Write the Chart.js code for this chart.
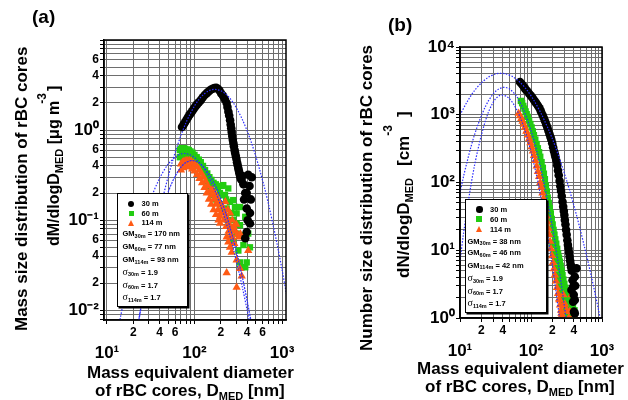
<!DOCTYPE html>
<html><head><meta charset="utf-8">
<script src="https://cdn.jsdelivr.net/npm/chart.js@4.4.1/dist/chart.umd.min.js"></script>
<style>
body{margin:0;background:#fff;width:628px;height:400px;overflow:hidden;position:relative;font-family:"Liberation Sans",Arial,Helvetica,sans-serif;font-weight:bold;color:#000}
canvas{position:absolute;top:0}
.t{position:absolute;white-space:nowrap;line-height:20px;font-size:17px;z-index:3}
.rot{transform:rotate(-90deg);transform-origin:0 0}
.sub{font-size:11px;position:relative;top:4px}
.sup{font-size:12px;position:relative}
.box{position:absolute;box-sizing:border-box;border:1.5px solid #000;box-shadow:1.5px 1.5px 0 #000;background:#fff;z-index:4}
.li{position:absolute;white-space:nowrap;font-size:7.5px;line-height:9px;z-index:5}
.li .s{font-size:5.5px;position:relative;top:1.5px}
.sig{font-family:"Liberation Serif","Times New Roman",serif;font-weight:normal;font-size:10px}
.mk{position:absolute;z-index:5}
</style></head>
<body>
<canvas id="ca" width="314" height="400" style="left:0"></canvas>
<canvas id="cb" width="314" height="400" style="left:314px"></canvas>

<div class="t" style="left:32px;top:6px;font-size:19px;line-height:22px">(a)</div>
<div class="t" style="left:388px;top:14px;font-size:19px;line-height:22px">(b)</div>

<div class="t rot" style="left:12px;top:331px">Mass size distribution of rBC cores</div>
<div class="t rot" style="left:44px;top:246px;font-size:16px">dM/dlogD<span class="sub">MED</span> [μg m<span class="sup" style="top:-13px;margin-left:-3px">-3</span><span style="margin-left:2px">]</span></div>
<div class="t" style="left:87px;top:363px">Mass equivalent diameter</div>
<div class="t" style="left:95px;top:381px">of rBC cores, D<span class="sub">MED</span> [nm]</div>

<div class="t rot" style="left:357px;top:351px">Number size distribution of rBC cores</div>
<div class="t rot" style="left:394px;top:278px">dN/dlogD<span class="sub">MED</span><span style="margin-left:12px">[cm</span><span class="sup" style="top:-17px">-3</span><span style="margin-left:8px">]</span></div>
<div class="t" style="left:417px;top:359px">Mass equivalent diameter</div>
<div class="t" style="left:425px;top:377px">of rBC cores, D<span class="sub">MED</span> [nm]</div>

<div class="box" style="left:117px;top:193px;width:71px;height:114px"></div>
<div class="mk" style="left:128px;top:200.5px;width:6px;height:6px;border-radius:50%;background:#000"></div>
<div class="mk" style="left:128.5px;top:211px;width:5px;height:5px;background:#22cc11"></div>
<div class="mk" style="left:127.5px;top:219.5px;width:0;height:0;border-left:3.5px solid transparent;border-right:3.5px solid transparent;border-bottom:6px solid #ff5a14"></div>
<div class="li" style="left:141.5px;top:199px">30 m</div>
<div class="li" style="left:141.5px;top:209px">60 m</div>
<div class="li" style="left:141.5px;top:218px">114 m</div>
<div class="li" style="left:122.5px;top:229px">GM<span class="s">30m</span> = 170 nm</div>
<div class="li" style="left:122.5px;top:242px">GM<span class="s">60m</span> = 77 nm</div>
<div class="li" style="left:122.5px;top:255px">GM<span class="s">114m</span> = 93 nm</div>
<div class="li" style="left:122.5px;top:266.5px"><span class="sig">σ</span><span class="s">30m</span> = 1.9</div>
<div class="li" style="left:122.5px;top:279.5px"><span class="sig">σ</span><span class="s">60m</span> = 1.7</div>
<div class="li" style="left:122.5px;top:292px"><span class="sig">σ</span><span class="s">114m</span> = 1.7</div>

<div class="box" style="left:465px;top:199px;width:82px;height:114px"></div>
<div class="mk" style="left:476px;top:206px;width:6.5px;height:6.5px;border-radius:50%;background:#000"></div>
<div class="mk" style="left:476.3px;top:216.3px;width:6px;height:6px;background:#22cc11"></div>
<div class="mk" style="left:475.5px;top:226px;width:0;height:0;border-left:3.8px solid transparent;border-right:3.8px solid transparent;border-bottom:6.5px solid #ff5a14"></div>
<div class="li" style="left:490px;top:205px">30 m</div>
<div class="li" style="left:490px;top:215px">60 m</div>
<div class="li" style="left:490px;top:225px">114 m</div>
<div class="li" style="left:467.5px;top:236.5px">GM<span class="s">30m</span> = 38 nm</div>
<div class="li" style="left:467.5px;top:248px">GM<span class="s">60m</span> = 46 nm</div>
<div class="li" style="left:467.5px;top:260.5px">GM<span class="s">114m</span> = 42 nm</div>
<div class="li" style="left:467.5px;top:273px"><span class="sig">σ</span><span class="s">30m</span> = 1.9</div>
<div class="li" style="left:467.5px;top:285.5px"><span class="sig">σ</span><span class="s">60m</span> = 1.7</div>
<div class="li" style="left:467.5px;top:298px"><span class="sig">σ</span><span class="s">114m</span> = 1.7</div>

<script>
// ---------- DATA ----------
// Panel (a): mass size distribution, [D_MED (nm), dM/dlogD (ug m-3)]
const mass30m = [[72,1.08],[75,1.15],[78,1.22],[81,1.3],[84,1.38],[87,1.46],[90,1.53],[94,1.62],[98,1.72],[102,1.82],[107,1.93],[112,2.03],[118,2.15],[124,2.3],[131,2.45],[138,2.57],[145,2.68],[153,2.8],[161,2.88],[169,2.93],[177,2.95],[185,2.88],[193,2.75],[202,2.55],[212,2.4],[222,2.2],[233,2.0],[238,1.8],[244,1.6],[249,1.45],[255,1.29],[259,1.15],[263,1.05],[266,0.95],[270,0.86],[274,0.78],[278,0.72],[282,0.66],[287,0.6],[291,0.56],[296,0.52],[301,0.48],[306,0.44],[311,0.41],[316,0.38],[321,0.355],[326,0.33],[332,0.31],[338,0.29],[345,0.28],[352,0.31],[362,0.25],[368,0.17],[380,0.2],[395,0.2],[411,0.32],[425,0.24],[440,0.17],[451,0.3],[395,0.135],[430,0.12],[405,0.1],[430,0.092],[395,0.074],[380,0.063]];
const mass60m = [[68,0.6],[70,0.62],[72,0.63],[75,0.63],[78,0.62],[82,0.61],[86,0.6],[90,0.58],[95,0.56],[100,0.53],[106,0.5],[112,0.47],[118,0.44],[125,0.4],[132,0.36],[140,0.33],[148,0.3],[156,0.28],[165,0.26],[175,0.25],[185,0.23],[68,0.5],[72,0.53],[76,0.54],[80,0.54],[85,0.53],[90,0.52],[96,0.49],[102,0.46],[108,0.43],[115,0.39],[122,0.35],[130,0.31],[138,0.27],[146,0.24],[155,0.21],[164,0.19],[174,0.17],[184,0.16],[195,0.2],[205,0.24],[213,0.245],[223,0.19],[233,0.135],[243,0.225],[254,0.16],[266,0.08],[277,0.1],[277,0.167],[290,0.14],[303,0.119],[303,0.071],[317,0.046],[331,0.088],[331,0.14],[331,0.068],[331,0.034],[346,0.03],[362,0.053],[380,0.109],[380,0.03],[395,0.034],[411,0.071],[430,0.05],[277,0.057],[303,0.092],[200,0.15],[215,0.13],[240,0.1],[260,0.12],[210,0.19],[230,0.17]];
const mass114m = [[70,0.42],[73,0.44],[76,0.45],[80,0.46],[84,0.46],[88,0.46],[92,0.45],[97,0.43],[102,0.41],[108,0.39],[114,0.36],[120,0.33],[127,0.3],[134,0.27],[142,0.24],[150,0.21],[158,0.19],[166,0.17],[175,0.15],[185,0.13],[196,0.11],[70,0.36],[74,0.38],[78,0.39],[83,0.4],[88,0.39],[94,0.37],[100,0.35],[107,0.32],[114,0.29],[122,0.26],[130,0.23],[138,0.2],[146,0.17],[155,0.15],[165,0.13],[176,0.115],[188,0.1],[196,0.092],[160,0.22],[170,0.2],[180,0.18],[190,0.16],[200,0.15],[210,0.14],[220,0.12],[230,0.11],[240,0.1],[250,0.09],[260,0.08],[270,0.1],[280,0.085],[290,0.075],[300,0.09],[310,0.07],[200,0.12],[215,0.1],[230,0.085],[245,0.075],[255,0.065],[225,0.16],[240,0.13],[255,0.12],[270,0.065],[320,0.065],[335,0.07],[243,0.057],[266,0.044],[303,0.036],[331,0.029],[346,0.024],[303,0.018],[411,0.046],[233,0.026],[254,0.05],[233,0.065],[285,0.055]];
// Fitted lognormal curves of panel (a)
const fitMass30m = [[22.4,0.0063],[25.1,0.0124],[28.2,0.0233],[31.6,0.0422],[35.5,0.0734],[39.8,0.123],[44.7,0.198],[50.1,0.306],[56.2,0.456],[63.1,0.652],[70.8,0.898],[79.4,1.19],[89.1,1.51],[100,1.85],[112,2.18],[126,2.47],[141,2.68],[158,2.81],[178,2.82],[200,2.73],[224,2.54],[251,2.28],[282,1.96],[316,1.62],[355,1.29],[398,0.986],[447,0.726],[501,0.513],[562,0.349],[631,0.229],[708,0.144],[794,0.0869],[891,0.0506],[1000,0.0283],[1122,0.0152]];
const fitMass60m = [[14.1,0.0079],[15.8,0.0138],[20,0.0373],[25.1,0.0865],[31.6,0.171],[39.8,0.29],[50.1,0.419],[63.1,0.519],[70.8,0.545],[79.4,0.549],[89.1,0.532],[100,0.496],[112,0.445],[126,0.384],[141,0.318],[158,0.254],[178,0.195],[200,0.144],[224,0.102],[251,0.0695],[282,0.0456],[316,0.0287],[355,0.0174],[398,0.0102],[447,0.0057]];
const fitMass114m = [[22.4,0.0066],[25.1,0.0127],[28.2,0.0232],[31.6,0.0401],[35.5,0.0655],[39.8,0.101],[44.7,0.148],[50.1,0.206],[56.2,0.27],[63.1,0.334],[70.8,0.393],[79.4,0.436],[93.3,0.46],[112,0.435],[126,0.395],[141,0.344],[158,0.286],[178,0.228],[200,0.173],[224,0.126],[251,0.0875],[282,0.058],[316,0.0369],[355,0.0224],[398,0.013],[447,0.0072]];

// Panel (b): number size distribution, [D_MED (nm), dN/dlogD (cm-3)]
const num30m = [[70,3050],[74,2850],[78,2650],[82,2450],[86,2300],[90,2180],[95,2030],[100,1900],[105,1780],[110,1650],[115,1550],[120,1450],[126,1350],[132,1250],[138,1120],[145,1000],[151,900],[158,800],[164,720],[170,650],[176,580],[182,520],[188,470],[193,430],[199,380],[205,330],[211,290],[217,260],[222,235],[228,210],[234,180],[240,150],[246,128],[253,105],[259,88],[265,75],[271,63],[278,52],[284,44],[290,38],[295,33],[300,28],[306,24],[312,20],[318,17],[325,14],[331,12],[338,10.5],[344,9.2],[350,8],[356,7],[362,6.2],[368,5.6],[375,5],[437,5.4],[414,4.07],[392,2.9],[414,1.84],[403,1.24],[392,5.4],[371,2.59],[392,1.74],[414,1.17],[385,3.6],[400,2.2],[420,3.0]];
const num60m = [[72,1600],[75,1480],[78,1350],[81,1230],[84,1120],[87,1020],[90,930],[94,820],[98,730],[102,650],[106,570],[110,500],[115,430],[120,370],[125,320],[130,280],[135,240],[141,200],[147,165],[152,135],[157,112],[162,90],[167,74],[172,60],[178,50],[184,42],[190,35],[196,29],[202,24],[208,20],[214,17],[220,14.5],[227,12.5],[234,10.5],[241,9],[248,7.8],[255,6.8],[262,5.9],[270,5],[278,4.3],[286,3.7],[295,3.2],[305,2.8],[315,2.4],[325,2.1],[336,1.85],[348,1.65],[360,1.45],[372,1.3],[385,1.18],[398,1.08],[200,12],[210,9],[220,7],[230,5.5],[240,4.4],[250,3.6],[260,3],[270,2.5],[280,2.1],[290,1.8],[300,1.55],[310,1.35],[320,1.2],[335,1.05],[350,2.3],[370,1.8],[390,1.6],[410,1.3],[360,1.1],[380,1.0]];
const num114m = [[67,1050],[70,960],[73,880],[76,800],[79,720],[82,650],[86,570],[90,500],[94,440],[98,385],[102,335],[106,290],[110,250],[115,210],[120,175],[125,145],[130,122],[135,100],[140,85],[145,70],[150,58],[155,48],[160,40],[165,32],[170,26],[175,21],[180,17],[186,13.5],[192,10.5],[198,8.3],[204,6.6],[210,5.3],[217,4.3],[224,3.5],[232,2.8],[240,2.3],[248,1.9],[256,1.55],[265,1.3],[272,1.1],[285,2.2],[300,1.6],[320,1.3],[351,1.24],[371,2.2],[414,1.95],[268,1.17],[253,1.84],[283,1.5],[340,1.0],[400,1.1]];
// Fitted lognormal curves of panel (b)
const fitNum30m = [[10,991],[12.6,1552],[15.8,2234],[20,2951],[25.1,3581],[31.6,3990],[37.8,4093],[44.7,4000],[56.2,3605],[70.8,2979],[89.1,2263],[112,1578],[141,1011],[158,783],[178,594],[200,442],[224,321],[251,229],[282,159],[316,109],[355,72.6],[398,47.4],[447,30.3],[501,19],[562,11.6],[631,7.0],[708,4.11],[794,2.37],[891,1.33],[1000,0.73]];
const fitNum60m = [[10,70.3],[11.2,122],[12.6,203],[14.1,321],[15.8,485],[17.8,700],[20,966],[22.4,1273],[25.1,1600],[28.2,1923],[31.6,2205],[35.5,2415],[42.1,2541],[50.1,2393],[63.1,1842],[79.4,1153],[100,587],[126,243],[158,81.7],[200,22.3],[251,4.95],[316,0.9]];
const fitNum114m = [[10,7.0],[11.2,17.5],[12.6,40.1],[14.1,85],[15.8,166],[17.8,300],[20,499],[22.4,766],[25.1,1086],[28.2,1419],[31.6,1710],[35.5,1901],[39,1954],[44.7,1879],[50.1,1706],[56.2,1462],[63.1,1183],[70.8,903],[79.4,651],[89.1,443],[100,285],[112,173],[126,99],[141,53.5],[158,27.3],[178,13.2],[200,6.0],[224,2.57],[251,1.04],[282,0.4]];

// Tick labels
const xLabelMinorA = [2,4,6];   const xLabelExpA = [1,2,3];
const yLabelMinorA = [2,4,6];   const yLabelExpA = [-2,-1,0];
const xLabelMinorB = [2,4];     const xLabelExpB = [1,2,3];
const yLabelMinorB = [];        const yLabelExpB = [0,1,2,3,4];

// ---------- STYLE ----------
const FONT = '"Liberation Sans", Arial, Helvetica, sans-serif';
const BLACK = '#000000', GREEN = '#22cc11', ORANGE = '#ff5a14', BLUE = '#2c2cff';
const SUP = {'-':'\u207B','0':'\u2070','1':'\u00B9','2':'\u00B2','3':'\u00B3','4':'\u2074'};
const supStr = n => String(n).split('').map(c => SUP[c]).join('');
function mant(v){ const e = Math.floor(Math.log10(v) + 1e-9); return {m: Math.round(v / Math.pow(10, e)), e}; }
function decadeTicks(min, max){
  const out = [];
  for (let e = -3; e <= 4; e++) for (let m = 1; m <= 9; m++) {
    const v = parseFloat((m * Math.pow(10, e)).toPrecision(6));
    if (v >= min && v <= max) out.push({value: v, major: m === 1});
  }
  return out;
}
function logAxis(pos, min, max, minorLabels, expLabels, size){
  return {
    type: 'logarithmic', position: pos, min, max,
    afterBuildTicks: s => { s.ticks = decadeTicks(min, max); },
    afterFit: s => { if (pos === 'left') s.width = size; else s.height = size; },
    grid: {color: '#6e6e6e', lineWidth: 1, tickLength: 4, tickColor: '#000', drawTicks: true},
    border: {display: true, color: '#000', width: 1.5},
    ticks: {
      autoSkip: false, maxRotation: 0, minRotation: 0, padding: 1, color: '#000',
      font: ctx => (ctx.tick && mant(ctx.tick.value).m === 1)
        ? {family: FONT, size: 17, weight: 'bold', lineHeight: 1.1}
        : {family: FONT, size: 12, weight: 'bold', lineHeight: 1.2},
      callback: v => {
        const {m, e} = mant(v);
        if (m === 1) {
          if (!expLabels.includes(e)) return '';
          const s = '10' + supStr(e);
          return pos === 'bottom' ? ['', s] : s;
        }
        return minorLabels.includes(m) ? String(m) : '';
      }
    }
  };
}
const pts = arr => arr.map(([x, y]) => ({x, y}));
const scat = (arr, color, style, r, order) => ({type: 'scatter', data: pts(arr), pointStyle: style, pointRadius: r,
  pointBackgroundColor: color, pointBorderColor: color, pointBorderWidth: 0, showLine: false, order});
const fitLine = (arr, dash) => ({type: 'line', data: pts(arr), borderColor: BLUE, borderWidth: 1.2, borderDash: dash,
  pointRadius: 0, tension: 0.3, fill: false, order: 0});
const frame = {id: 'frame', afterDraw(c){ const a = c.chartArea, x = c.ctx; x.save(); x.strokeStyle = '#000'; x.lineWidth = 1.5;
  x.strokeRect(a.left, a.top, a.right - a.left, a.bottom - a.top); x.restore(); }};
const base = (padding, xs, ys) => ({responsive: false, animation: false, devicePixelRatio: 1,
  layout: {padding}, plugins: {legend: {display: false}, tooltip: {enabled: false}}, scales: {x: xs, y: ys}});

new Chart(document.getElementById('ca'), {
  type: 'scatter',
  data: {datasets: [
    fitLine(fitMass30m, [1.5, 1.5]), fitLine(fitMass60m, [1.5, 1.5]), fitLine(fitMass114m, [2, 1]),
    scat(mass30m, BLACK, 'circle', 4.3, 1),
    scat(mass114m, ORANGE, 'triangle', 4.8, 2),
    scat(mass60m, GREEN, 'rect', 4.5, 3)
  ]},
  options: base({left: 0, top: 40, right: 28, bottom: 0},
    logAxis('bottom', 9.25, 1110, xLabelMinorA, xLabelExpA, 80),
    logAxis('left', 0.0078, 10, yLabelMinorA, yLabelExpA, 104)),
  plugins: [frame]
});

new Chart(document.getElementById('cb'), {
  type: 'scatter',
  data: {datasets: [
    fitLine(fitNum30m, [1.5, 1.5]), fitLine(fitNum60m, [1.5, 1.5]), fitLine(fitNum114m, [1.5, 1.5]),
    scat(num30m, BLACK, 'circle', 4.3, 1),
    scat(num114m, ORANGE, 'triangle', 4.8, 2),
    scat(num60m, GREEN, 'rect', 4.5, 3)
  ]},
  options: base({left: 0, top: 47, right: 26, bottom: 0},
    logAxis('bottom', 10, 1000, xLabelMinorB, xLabelExpB, 82),
    logAxis('left', 1, 10000, yLabelMinorB, yLabelExpB, 146)),
  plugins: [frame]
});
</script>
</body></html>
